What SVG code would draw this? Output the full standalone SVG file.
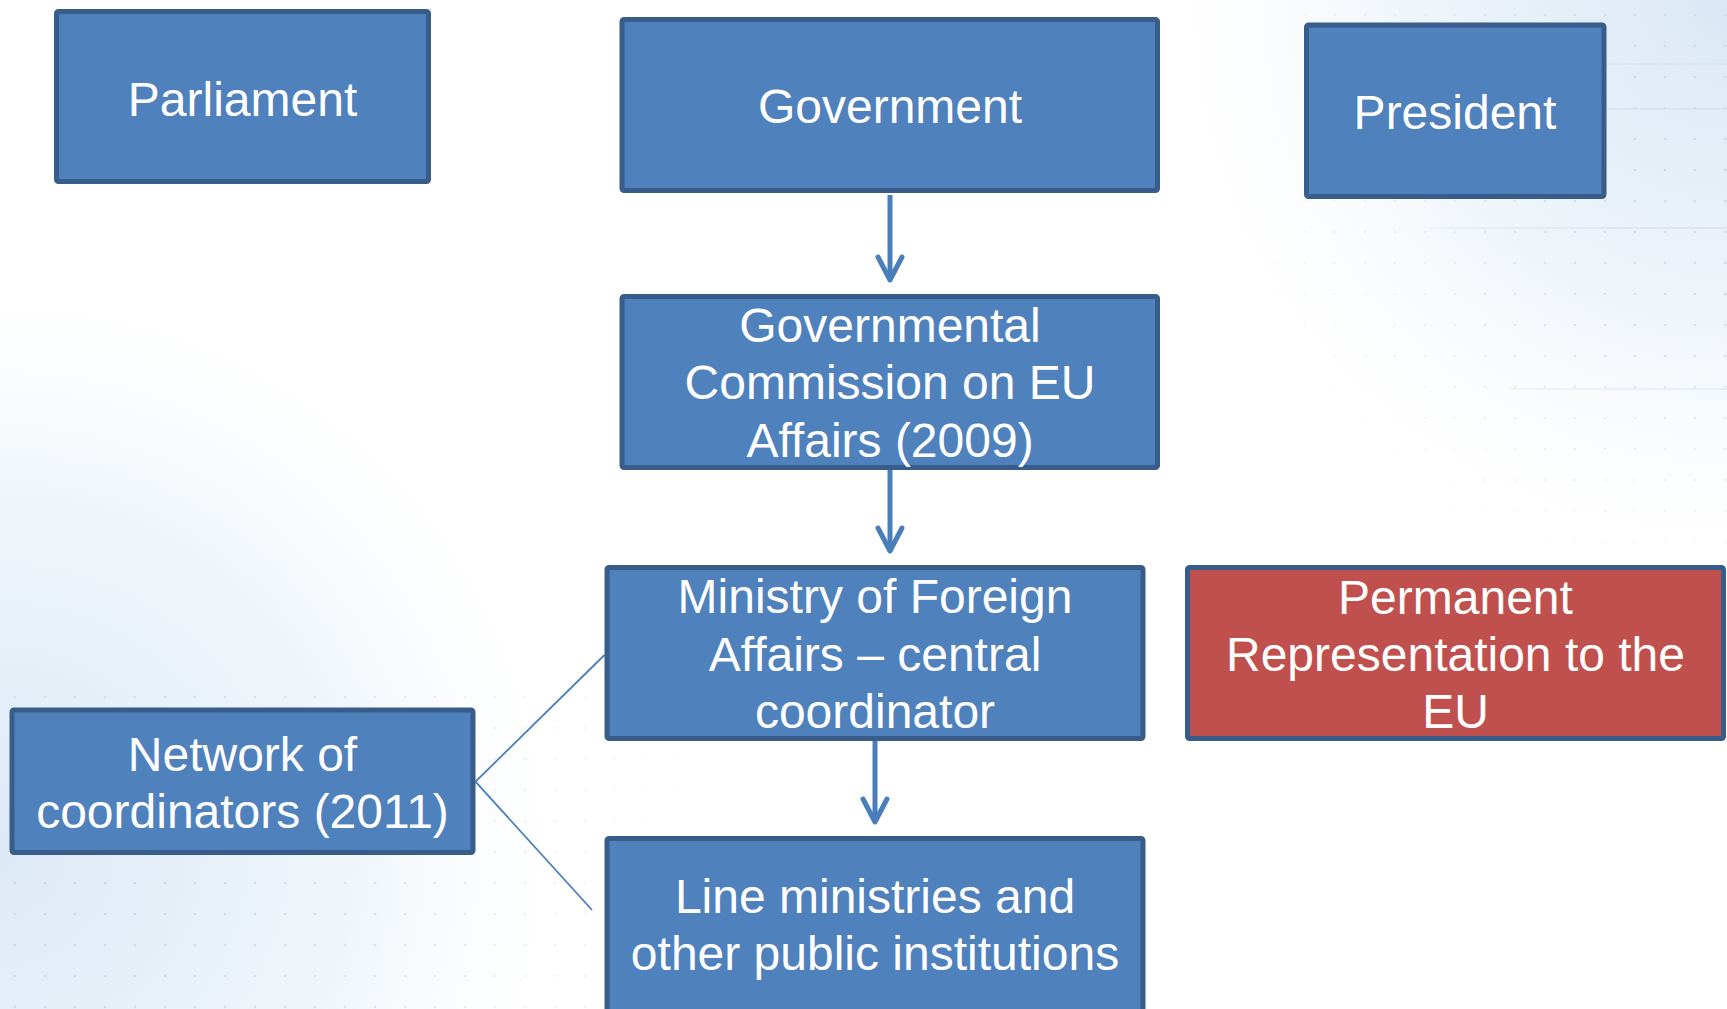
<svg xmlns="http://www.w3.org/2000/svg" width="1727" height="1009" viewBox="0 0 1727 1009">
<style>
.box{fill:#4f81bd;stroke:#385d8a;stroke-width:5}
.red{fill:#c0504d;stroke:#385d8a;stroke-width:5}
.lbl{font-family:"Liberation Sans",Arial,sans-serif;font-size:48px;fill:#ffffff;text-anchor:middle}
.arr{stroke:#4a7ebb;stroke-width:5;fill:none;marker-end:url(#head)}
.thin{stroke:#4a7ebb;stroke-width:1.8;fill:none}
</style>
<defs>
<marker id="head" markerUnits="userSpaceOnUse" orient="auto" refX="0" refY="0" markerWidth="40" markerHeight="40" viewBox="-30 -20 40 40" overflow="visible">
<path d="M-23,-12 L0,0 L-23,12" fill="none" stroke="#4a7ebb" stroke-width="5" stroke-linecap="round" stroke-linejoin="round"/>
</marker>
<pattern id="dots" width="30" height="31" patternUnits="userSpaceOnUse">
<circle cx="15" cy="15" r="1.3" fill="#c9d5e3"/>
</pattern>
<radialGradient id="tr" cx="1727" cy="0" r="600" gradientUnits="userSpaceOnUse">
<stop offset="0" stop-color="#dbe8f5"/>
<stop offset="0.5" stop-color="#eef4fa"/>
<stop offset="1" stop-color="#ffffff" stop-opacity="0"/>
</radialGradient>
<radialGradient id="bl" cx="0" cy="850" r="600" gradientUnits="userSpaceOnUse">
<stop offset="0" stop-color="#dde9f6"/>
<stop offset="0.6" stop-color="#f0f6fb"/>
<stop offset="1" stop-color="#ffffff" stop-opacity="0"/>
</radialGradient>
<radialGradient id="mtr" cx="1727" cy="150" r="500" gradientUnits="userSpaceOnUse">
<stop offset="0" stop-color="#fff"/>
<stop offset="1" stop-color="#000"/>
</radialGradient>
<radialGradient id="mbl" cx="100" cy="900" r="650" gradientUnits="userSpaceOnUse">
<stop offset="0" stop-color="#fff"/>
<stop offset="1" stop-color="#000"/>
</radialGradient>
<mask id="m1"><rect width="1727" height="1009" fill="url(#mtr)"/></mask>
<mask id="m2"><rect width="1727" height="1009" fill="url(#mbl)"/></mask>
</defs>
<g id="background">
<rect width="1727" height="1009" fill="#ffffff"/>
<rect width="1727" height="1009" fill="url(#tr)"/>
<rect width="1727" height="1009" fill="url(#bl)"/>
<rect x="1200" y="0" width="527" height="560" fill="url(#dots)" mask="url(#m1)"/>
<rect x="0" y="680" width="700" height="329" fill="url(#dots)" mask="url(#m2)"/>
<g stroke="#d5e1ee" stroke-width="1.5" mask="url(#m1)">
<line x1="1600" y1="64" x2="1727" y2="64"/>
<line x1="1600" y1="109" x2="1727" y2="109"/>
<line x1="1430" y1="228" x2="1727" y2="228"/>
<line x1="1510" y1="389" x2="1727" y2="389"/>
</g>
</g>
<g id="connectors">
<path class="arr" d="M890,195 L890,280"/>
<path class="arr" d="M890,470 L890,551"/>
<path class="arr" d="M875,741 L875,822"/>
<path class="thin" d="M475.5,781.7 L604.5,655"/>
<path class="thin" d="M475.5,781.7 L592,910"/>
</g>
<g id="parliament">
<rect class="box" x="56.5" y="11.5" width="372" height="170" rx="2"/>
<text class="lbl" x="242.5" y="116">Parliament</text>
</g>
<g id="government">
<rect class="box" x="622" y="19.5" width="535.5" height="171" rx="2"/>
<text class="lbl" x="890" y="123">Government</text>
</g>
<g id="president">
<rect class="box" x="1306.5" y="25" width="297.5" height="171.5" rx="2"/>
<text class="lbl" x="1455" y="129">President</text>
</g>
<g id="commission">
<rect class="box" x="622" y="296.5" width="535.5" height="171" rx="2"/>
<text class="lbl" x="890" y="341.5">Governmental</text>
<text class="lbl" x="890" y="399">Commission on EU</text>
<text class="lbl" x="890" y="457">Affairs (2009)</text>
</g>
<g id="ministry">
<rect class="box" x="607" y="567.5" width="536" height="171" rx="2"/>
<text class="lbl" x="875" y="613">Ministry of Foreign</text>
<text class="lbl" x="875" y="671">Affairs – central</text>
<text class="lbl" x="875" y="728">coordinator</text>
</g>
<g id="permanent-representation">
<rect class="red" x="1187.5" y="567.5" width="536" height="171" rx="2"/>
<text class="lbl" x="1455.5" y="614">Permanent</text>
<text class="lbl" x="1455.5" y="671">Representation to the</text>
<text class="lbl" x="1455.5" y="728">EU</text>
</g>
<g id="network">
<rect class="box" x="12" y="710" width="461" height="142.5" rx="2"/>
<text class="lbl" x="242.5" y="771">Network of</text>
<text class="lbl" x="242.5" y="828">coordinators (2011)</text>
</g>
<g id="line-ministries">
<rect class="box" x="607" y="838.5" width="536" height="200" rx="2"/>
<text class="lbl" x="875" y="913">Line ministries and</text>
<text class="lbl" x="875" y="970">other public institutions</text>
</g>
</svg>
